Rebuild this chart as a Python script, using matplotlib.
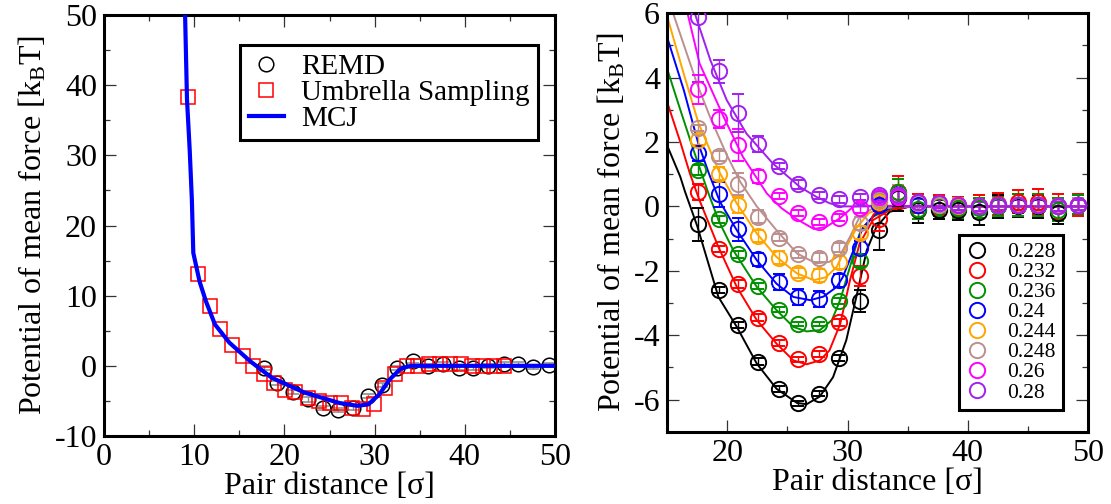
import matplotlib
matplotlib.use('Agg')
import matplotlib.pyplot as plt
from matplotlib.lines import Line2D
from matplotlib.ticker import MultipleLocator

plt.rcParams['font.family'] = ['Liberation Serif', 'DejaVu Serif']
plt.rcParams['mathtext.fontset'] = 'custom'
plt.rcParams['mathtext.rm'] = 'Liberation Serif'
plt.rcParams['mathtext.it'] = 'Liberation Serif:italic'
plt.rcParams['axes.unicode_minus'] = False

# ---- left panel data ----
remd_x = [17.7, 19.2, 21.0, 22.6, 24.3, 25.9, 27.6, 29.3, 30.8, 32.5,
          34.2, 35.9, 37.6, 39.3, 40.9, 42.6, 44.3, 45.9, 47.6, 49.3]
remd_y = [-0.3, -2.4, -3.7, -4.8, -6.0, -6.3, -6.0, -4.3, -2.7, -0.3,
          0.7, 0.0, 0.3, -0.3, -0.3, 0.0, 0.2, 0.2, -0.2, 0.1]
remd_err = [0.3] * 20

us_x = [9.3, 10.4, 11.7, 12.9, 14.2, 15.4, 16.5, 17.7, 18.9, 20.1,
        21.2, 22.6, 23.8, 25.1, 26.3, 27.5, 28.7, 29.9, 31.1, 32.3,
        33.6, 34.8, 36.0, 37.2, 38.4, 39.6, 40.8, 42.0, 43.2, 44.3]
us_y = [38.3, 13.1, 8.5, 5.2, 3.0, 1.4, 0.0, -1.2, -2.4, -3.4,
        -3.8, -4.6, -5.0, -5.3, -5.3, -6.0, -6.2, -5.5, -3.1, -1.2,
        0.0, 0.0, 0.2, 0.2, 0.2, 0.2, 0.0, 0.0, 0.0, 0.0]

mcj_x = [8.99, 9.2, 9.5, 9.74, 9.9, 10.6, 11.3, 12.3, 13.9, 16.2, 18.6,
         22.2, 26.1, 28.1, 29.3, 30.5, 31.7, 32.9, 34.0, 50.0]
mcj_y = [50.0, 38.0, 30.8, 23.7, 16.1, 12.0, 9.2, 5.9, 3.3, 0.66, -1.7,
         -3.8, -5.3, -5.7, -5.5, -4.1, -1.9, -0.4, 0.0, 0.0]

# ---- right panel data ----
labels = ['0.228', '0.232', '0.236', '0.24', '0.244', '0.248', '0.26', '0.28']
colors = ['black', 'red', '#009000', 'blue', 'orange', '#BC8F8F', 'magenta', '#A020F0']

pt_x = [17.6, 19.3, 20.9, 22.6, 24.3, 25.9, 27.6, 29.3, 31.0, 32.6,
        34.2, 35.9, 37.6, 39.2, 40.9, 42.5, 44.2, 45.8, 47.5, 49.2]

pt_228 = [-0.56, -2.59, -3.68, -4.82, -5.67, -6.11, -5.82, -4.71, -2.93, -0.74,
          0.25, -0.1, -0.1, -0.12, -0.18, 0.0, 0.02, 0.0, -0.2, 0.05]
pt_232 = [0.44, -1.33, -2.41, -3.45, -4.24, -4.74, -4.58, -3.6, -2.16, -0.4,
          0.44, 0.1, 0.05, 0.0, 0.0, 0.08, 0.15, 0.15, 0.0, 0.05]
pt_236 = [1.12, -0.4, -1.49, -2.47, -3.21, -3.65, -3.65, -2.93, -1.69, 0.2,
          0.45, -0.08, 0.0, -0.05, -0.05, 0.0, 0.05, 0.05, -0.1, 0.05]
pt_240 = [1.66, 0.37, -0.71, -1.64, -2.34, -2.81, -2.88, -2.29, -1.28, 0.05,
          0.3, 0.05, 0.05, 0.0, 0.0, 0.05, 0.05, 0.05, 0.0, 0.05]
pt_244 = [2.07, 1.02, 0.03, -0.92, -1.59, -2.07, -2.14, -1.74, -0.82, 0.15,
          0.35, 0.1, 0.05, 0.0, 0.0, 0.05, 0.05, 0.05, 0.0, 0.05]
pt_248 = [2.43, 1.56, 0.7, -0.32, -0.97, -1.49, -1.59, -1.28, -0.53, 0.2,
          0.35, 0.1, 0.05, 0.05, 0.0, 0.05, 0.05, 0.05, 0.0, 0.05]
pt_260 = [3.64, 2.72, 1.9, 0.94, 0.32, -0.2, -0.49, -0.35, -0.04, 0.3,
          0.3, 0.15, 0.1, 0.05, 0.0, 0.05, 0.05, 0.05, 0.0, 0.05]
pt_280 = [5.87, 4.19, 2.9, 1.94, 1.25, 0.68, 0.34, 0.22, 0.29, 0.34,
          0.35, 0.15, 0.1, 0.05, 0.0, 0.05, 0.05, 0.05, 0.0, 0.05]

err_228 = [0.5, 0.1, 0.1, 0.1, 0.1, 0.08, 0.08, 0.1, 0.35, 0.6,
           0.4, 0.4, 0.3, 0.3, 0.4, 0.35, 0.35, 0.35, 0.35, 0.3]
err_232 = [0.25, 0.1, 0.12, 0.12, 0.1, 0.08, 0.1, 0.1, 0.3, 0.35,
           0.5, 0.3, 0.3, 0.3, 0.35, 0.35, 0.35, 0.4, 0.4, 0.35]
err_236 = [0.15, 0.1, 0.12, 0.08, 0.08, 0.06, 0.06, 0.1, 0.2, 0.2,
           0.4, 0.3, 0.3, 0.3, 0.3, 0.3, 0.35, 0.35, 0.35, 0.3]
err_240 = [0.25, 0.4, 0.35, 0.2, 0.25, 0.25, 0.25, 0.2, 0.2, 0.15,
           0.3, 0.2, 0.2, 0.2, 0.2, 0.2, 0.2, 0.2, 0.2, 0.2]
err_244 = [0.15, 0.2, 0.25, 0.2, 0.2, 0.15, 0.2, 0.2, 0.2, 0.15,
           0.3, 0.2, 0.2, 0.2, 0.2, 0.2, 0.2, 0.2, 0.2, 0.2]
err_248 = [0.1, 0.15, 0.35, 0.2, 0.1, 0.1, 0.15, 0.15, 0.2, 0.15,
           0.3, 0.2, 0.2, 0.2, 0.2, 0.2, 0.2, 0.2, 0.2, 0.2]
err_260 = [0.45, 0.28, 0.5, 0.2, 0.1, 0.1, 0.1, 0.1, 0.15, 0.15,
           0.25, 0.15, 0.15, 0.15, 0.15, 0.15, 0.15, 0.15, 0.15, 0.15]
err_280 = [2.0, 0.35, 0.6, 0.25, 0.1, 0.15, 0.1, 0.1, 0.1, 0.15,
           0.2, 0.15, 0.15, 0.15, 0.15, 0.15, 0.15, 0.15, 0.15, 0.15]

# fitted curves
fit_x_228 = [15, 16.1, 16.5, 17.5, 18.3, 19.27, 20.8, 22.46, 24.1, 25.8, 26.6, 27.7,
             28.8, 29.9, 30.8, 31.6, 32.4, 33.5, 35, 50]
fit_y_228 = [1.9, 0.92, 0.45, -0.6, -1.6, -2.81, -3.74, -4.88, -5.66, -6.1, -6.14, -5.9,
             -5.3, -4.15, -2.7, -1.36, -0.64, -0.17, -0.02, 0]
fit_x_232 = [15, 16.1, 16.9, 17.7, 19.27, 20.8, 22.46, 24.1, 25.5, 26.6, 27.7, 28.5,
             29.4, 30.2, 31.0, 32.1, 33.5, 35, 50]
fit_y_232 = [3.25, 2.0, 1.02, 0.19, -1.26, -2.5, -3.53, -4.26, -4.78, -4.9, -4.78, -4.47,
             -3.64, -2.3, -1.16, -0.43, -0.12, -0.02, 0]
fit_x_236 = [15, 16.1, 17.2, 18.4, 19.3, 20.5, 22.46, 24.1, 25.5, 26.6, 27.7, 28.7,
             29.4, 30.2, 31.0, 32.1, 33.5, 35, 50]
fit_y_236 = [4.28, 3.0, 1.75, 0.45, -0.45, -1.36, -2.5, -3.22, -3.74, -3.88, -3.84, -3.53,
             -2.9, -1.88, -0.85, -0.32, -0.08, 0, 0]
fit_x_240 = [15, 16.4, 17.6, 18.5, 19.4, 20.8, 22.46, 24.1, 25.5, 26.9, 28.0, 29.1,
             29.6, 30.5, 31.3, 32.3, 33.5, 35, 50]
fit_y_240 = [5.26, 3.6, 1.95, 1.0, 0.14, -0.74, -1.67, -2.4, -2.81, -2.91, -2.8, -2.5,
             -2.2, -1.36, -0.64, -0.25, -0.06, 0, 0]
fit_x_244 = [15, 16.4, 17.6, 19.3, 20.8, 22.46, 24.1, 25.8, 27.2, 28.2, 29.1, 29.9,
             30.8, 31.8, 33, 35, 50]
fit_y_244 = [5.91, 4.1, 2.6, 1.1, 0.09, -0.84, -1.57, -2.08, -2.29, -2.2, -1.88, -1.26,
             -0.64, -0.2, -0.05, 0, 0]
fit_x_248 = [15.5, 16.5, 17.5, 18.6, 19.96, 21.1, 22.46, 24.1, 25.8, 27.4, 28.5, 29.4,
             30.2, 31.0, 32.0, 33.5, 50]
fit_y_248 = [6.0, 4.9, 3.8, 2.75, 1.6, 0.75, 0.0, -0.74, -1.46, -1.77, -1.72, -1.5,
             -0.95, -0.33, -0.08, 0, 0]
fit_x_260 = [16.7, 17.7, 19.7, 21.3, 23.3, 24.5, 25.8, 27.2, 28.2, 29.4, 30.5, 32, 50]
fit_y_260 = [6.0, 4.44, 2.78, 1.54, 0.4, -0.05, -0.4, -0.7, -0.64, -0.36, 0.0, 0.02, 0]
fit_x_280 = [17.3, 18.6, 19.96, 21.6, 23.8, 26.06, 27.4, 28.5, 29.5, 31, 50]
fit_y_280 = [6.0, 4.54, 3.3, 2.26, 1.33, 0.6, 0.3, 0.1, 0.0, 0, 0]

pts = [pt_228, pt_232, pt_236, pt_240, pt_244, pt_248, pt_260, pt_280]
errs = [err_228, err_232, err_236, err_240, err_244, err_248, err_260, err_280]
fits_x = [fit_x_228, fit_x_232, fit_x_236, fit_x_240, fit_x_244, fit_x_248, fit_x_260, fit_x_280]
fits_y = [fit_y_228, fit_y_232, fit_y_236, fit_y_240, fit_y_244, fit_y_248, fit_y_260, fit_y_280]


def style_axes(ax):
    for s in ax.spines.values():
        s.set_linewidth(2.2)
    ax.tick_params(which='both', direction='in', top=True, right=True,
                   labelsize=23, color='#333333', labelfontfamily='Liberation Serif')
    ax.tick_params(which='major', length=8.5, width=0.9, pad=5)
    ax.tick_params(which='minor', length=4.5, width=0.9)


fig = plt.figure(figsize=(11.11, 5.04), dpi=100)
ax1 = fig.add_axes([0.0936, 0.135, 0.406, 0.835])
ax2 = fig.add_axes([0.6004, 0.143, 0.379, 0.831])

# left panel
ax1.errorbar(remd_x, remd_y, yerr=remd_err, fmt='o', mfc='none', mec='black', ms=10.5,
             mew=1.1, ecolor='#888888', elinewidth=1.0, capsize=4, zorder=2)
ax1.plot(us_x, us_y, 's', mfc='none', mec='red', ms=10, mew=1.1, zorder=3)
ax1.plot(mcj_x, mcj_y, color='blue', lw=3, zorder=4)
ax1.set_xlim(0, 50)
ax1.set_ylim(-10, 50)
ax1.xaxis.set_major_locator(MultipleLocator(10))
ax1.xaxis.set_minor_locator(MultipleLocator(5))
ax1.yaxis.set_major_locator(MultipleLocator(10))
ax1.yaxis.set_minor_locator(MultipleLocator(5))
style_axes(ax1)
ax1.set_xlabel('Pair distance [σ]', fontsize=23, labelpad=0)
ax1.set_ylabel(r'Potential of mean force [k$_{\rm B}$T]', fontsize=23, labelpad=4)

h1 = [Line2D([], [], marker='o', ls='none', mfc='none', mec='black', ms=10.5, mew=1.1),
      Line2D([], [], marker='s', ls='none', mfc='none', mec='red', ms=10, mew=1.1),
      Line2D([], [], color='blue', lw=3)]
leg1 = ax1.legend(h1, ['REMD', 'Umbrella Sampling', 'MCJ'], loc='upper right',
                  bbox_to_anchor=(0.963, 0.929), borderaxespad=0, fontsize=21,
                  fancybox=False, framealpha=1, edgecolor='black', handlelength=1.2,
                  handletextpad=0.6, labelspacing=0.0, borderpad=0.3, handleheight=0.6)
leg1.get_frame().set_linewidth(2.2)

# right panel
for i in range(len(labels)):
    ax2.plot(fits_x[i], fits_y[i], color=colors[i], lw=1.4, zorder=2)
    ax2.errorbar(pt_x, pts[i], yerr=errs[i], fmt='o', mfc='none', mec=colors[i], ms=11,
                 mew=1.4, ecolor=colors[i], elinewidth=1.0, capsize=4, zorder=3)
ax2.set_xlim(15, 50)
ax2.set_ylim(-7, 6)
ax2.xaxis.set_major_locator(MultipleLocator(10))
ax2.xaxis.set_minor_locator(MultipleLocator(5))
ax2.yaxis.set_major_locator(MultipleLocator(2))
ax2.yaxis.set_minor_locator(MultipleLocator(1))
style_axes(ax2)
ax2.set_xlabel('Pair distance [σ]', fontsize=23, labelpad=0)
ax2.set_ylabel(r'Potential of mean force [k$_{\rm B}$T]', fontsize=23, labelpad=4)

h2 = [Line2D([], [], marker='o', ls='none', mfc='none', mec=c, ms=11, mew=1.4) for c in colors]
leg2 = ax2.legend(h2, labels, loc='upper right', bbox_to_anchor=(0.941, 0.47),
                  borderaxespad=0, fontsize=15.5, fancybox=False, framealpha=1,
                  edgecolor='black', handlelength=1.0, handletextpad=0.9,
                  labelspacing=0.03, borderpad=0.35, handleheight=0.6)
leg2.get_frame().set_linewidth(2.2)

fig.savefig('out.png', dpi=100)
